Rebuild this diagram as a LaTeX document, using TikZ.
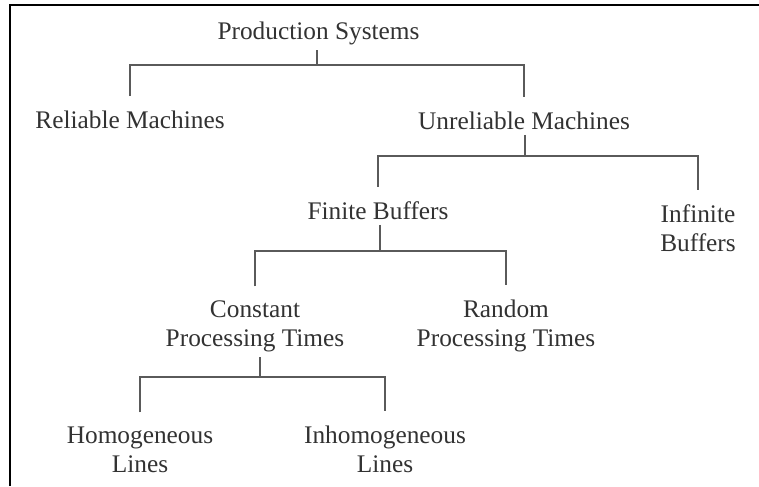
\documentclass[tikz,border=0pt]{standalone}
\usepackage{fontspec}
\setmainfont{Liberation Serif}
\usepackage{tikz}

\definecolor{txtgray}{RGB}{50,50,50}
\definecolor{linegray}{RGB}{90,90,90}

\tikzset{
  lbl/.style={anchor=base,inner sep=0pt,align=center,text=txtgray},
  branch/.style={draw=linegray,line width=1.4pt,shorten <=10.5pt,shorten >=10.5pt},
  stem/.style={draw=linegray,line width=1.4pt,shorten <=4pt},
}

\begin{document}
\begin{tikzpicture}[x=0.75pt,y=0.75pt,yscale=-1,xscale=1,font=\fontsize{19}{21.5}\selectfont]
\useasboundingbox (0,0) rectangle (759,486);
\draw [line width=1.5pt] (10,486) -- (10,5) -- (759,5) ;
\draw (318.5,39) node [lbl] (ps) {Production Systems};
\draw (130,128) node [lbl] (rm) {Reliable Machines};
\draw (524,129) node [lbl] (um) {Unreliable Machines};
\draw (378,219) node [lbl] (fb) {Finite Buffers};
\draw (698,251) node [lbl] (ib) {Infinite\\Buffers};
\draw (255,346) node [lbl] (cp) {Constant\\Processing Times};
\draw (506,346) node [lbl] (rp) {Random\\Processing Times};
\draw (140,472) node [lbl] (hl) {Homogeneous\\Lines};
\draw (385,472) node [lbl] (il) {Inhomogeneous\\Lines};
\coordinate (j1) at (317,65);
\coordinate (j2) at (525,156);
\coordinate (j3) at (380,251);
\coordinate (j4) at (260,377);
\draw [stem] (j1 |- ps.south) -- (j1) ;
\draw [branch] (rm.north) |- (j1) -| (um.north) ;
\draw [stem] (j2 |- um.south) -- (j2) ;
\draw [branch] (fb.north) |- (j2) -| (ib.north) ;
\draw [stem] (j3 |- fb.south) -- (j3) ;
\draw [branch] (cp.north) |- (j3) -| (rp.north) ;
\draw [stem] (j4 |- cp.south) -- (j4) ;
\draw [branch] (hl.north) |- (j4) -| (il.north) ;
\end{tikzpicture}
\end{document}
